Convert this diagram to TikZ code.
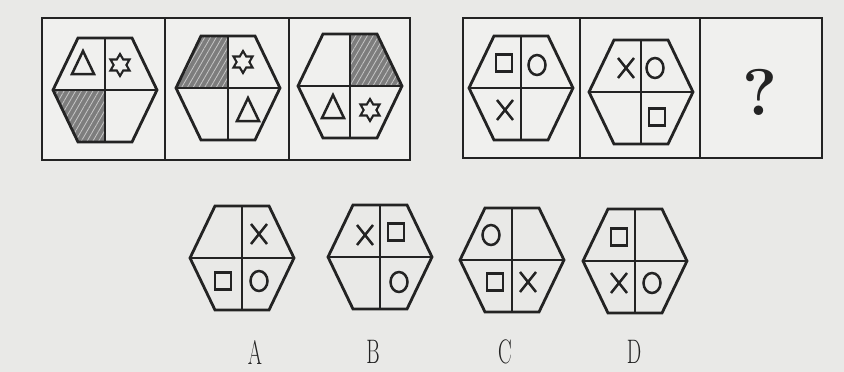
\documentclass[tikz,border=0pt]{standalone}
\usepackage{tikz}
\usetikzlibrary{patterns.meta, calc}
\definecolor{papel}{RGB}{233,233,231}
\definecolor{hoja}{RGB}{240,240,238}
\definecolor{tinta}{RGB}{35,35,35}
\definecolor{sombra}{RGB}{125,125,125}

\begin{document}
\begin{tikzpicture}[x=1pt, y=-1pt,
    marco/.style={draw=tinta, line width=2.9pt},
    hexline/.style={draw=tinta, line width=2.8pt, line join=miter},
    simb/.style={draw=tinta, line width=2.5pt},
    rayado/.style={fill=sombra, postaction={pattern={Lines[angle=60, distance=5pt, line width=0.8pt]},
        pattern color=gray!45}},
    opcion/.style={font=\fontsize{34}{34}\selectfont, text=tinta, inner sep=0pt},
    pics/hexa/.style={code={
        \draw[hexline] (-52,0) -- (-27,-52) -- (27,-52) -- (52,0) -- (27,52) -- (-27,52) -- cycle;
        \draw[hexline] (-52,0) -- (52,0) (0,-52) -- (0,52);}},
    pics/cuad/.style={code={\draw[simb] (-8,-8.5) rectangle (8,8.5);}},
    pics/circ/.style={code={\draw[simb] (0,0) ellipse [x radius=8.5, y radius=10];}},
    pics/aspa/.style={code={\draw[simb] (-8,-10) -- (8,10) (-8,10) -- (8,-10);}},
    pics/tri/.style={code={\draw[simb, line join=miter] (-11,11) -- (0,-12) -- (11,11) -- cycle;}},
    pics/estrella/.style={code={
        \draw[simb, line width=2.1pt] (90:11)
          \foreach \a in {0,60,...,300} { -- ({\a+120}:6.4) -- ({\a+150}:11) } -- cycle;}}]
  % Fondo
  \fill[papel] (0,0) rectangle (844,372);
  \useasboundingbox (0,0) rectangle (844,372);
  % Marcos
  \fill[hoja] (42,18) rectangle (410,160);
  \fill[hoja] (463,18) rectangle (822,158);
  \draw[marco] (42,18) rectangle (410,160) (165,18) -- (165,160) (289,18) -- (289,160);
  \draw[marco] (463,18) rectangle (822,158) (580,18) -- (580,158) (700,18) -- (700,158);
  % Centros
  \coordinate (p1) at (105,90);
  \coordinate (p2) at (228,88);
  \coordinate (p3) at (350,86);
  \coordinate (p4) at (521,88);
  \coordinate (p5) at (641,92);
  \coordinate (oa) at (242,258);
  \coordinate (ob) at (380,257);
  \coordinate (oc) at (512,260);
  \coordinate (od) at (635,261);
  % Cuadrantes sombreados
  \fill[rayado, shift={(p1)}] (0,0) -- (-52,0) -- (-27,52) -- (0,52) -- cycle;
  \fill[rayado, shift={(p2)}] (0,0) -- (-52,0) -- (-27,-52) -- (0,-52) -- cycle;
  \fill[rayado, shift={(p3)}] (0,0) -- (52,0) -- (27,-52) -- (0,-52) -- cycle;
  % Hexagonos
  \foreach \h in {p1,p2,p3,p4,p5,oa,ob,oc,od} \pic at (\h) {hexa};
  % Primera serie
  \pic at ([shift={(-22,-27)}]p1) {tri};
  \pic at ([shift={(15,-25)}]p1) {estrella};
  \pic at ([shift={(15,-26)}]p2) {estrella};
  \pic at ([shift={(20,22)}]p2) {tri};
  \pic at ([shift={(-17,21)}]p3) {tri};
  \pic at ([shift={(20,24)}]p3) {estrella};
  % Segunda serie
  \pic at ([shift={(-17,-25)}]p4) {cuad};
  \pic at ([shift={(16,-23)}]p4) {circ};
  \pic at ([shift={(-16,22)}]p4) {aspa};
  \pic at ([shift={(-15,-24)}]p5) {aspa};
  \pic at ([shift={(14,-24)}]p5) {circ};
  \pic at ([shift={(16,25)}]p5) {cuad};
  \node[opcion, font=\fontsize{66}{66}\selectfont\bfseries] (preg) at (760,92) {?};
  % Opciones
  \pic at ([shift={(17,-24)}]oa) {aspa};
  \pic at ([shift={(-19,23)}]oa) {cuad};
  \pic at ([shift={(17,23)}]oa) {circ};
  \pic at ([shift={(-15,-22)}]ob) {aspa};
  \pic at ([shift={(16,-25)}]ob) {cuad};
  \pic at ([shift={(19,25)}]ob) {circ};
  \pic at ([shift={(-21,-25)}]oc) {circ};
  \pic at ([shift={(-17,22)}]oc) {cuad};
  \pic at ([shift={(16,22)}]oc) {aspa};
  \pic at ([shift={(-16,-24)}]od) {cuad};
  \pic at ([shift={(-16,22)}]od) {aspa};
  \pic at ([shift={(17,22)}]od) {circ};
  % Letras
  \node[opcion] (la) at (255,352) {\scalebox{0.6}[1]{A}};
  \node[opcion] (lb) at (373,352) {\scalebox{0.6}[1]{B}};
  \node[opcion] (lc) at (505,352) {\scalebox{0.6}[1]{C}};
  \node[opcion] (ld) at (634,352) {\scalebox{0.6}[1]{D}};
\end{tikzpicture}
\end{document}
